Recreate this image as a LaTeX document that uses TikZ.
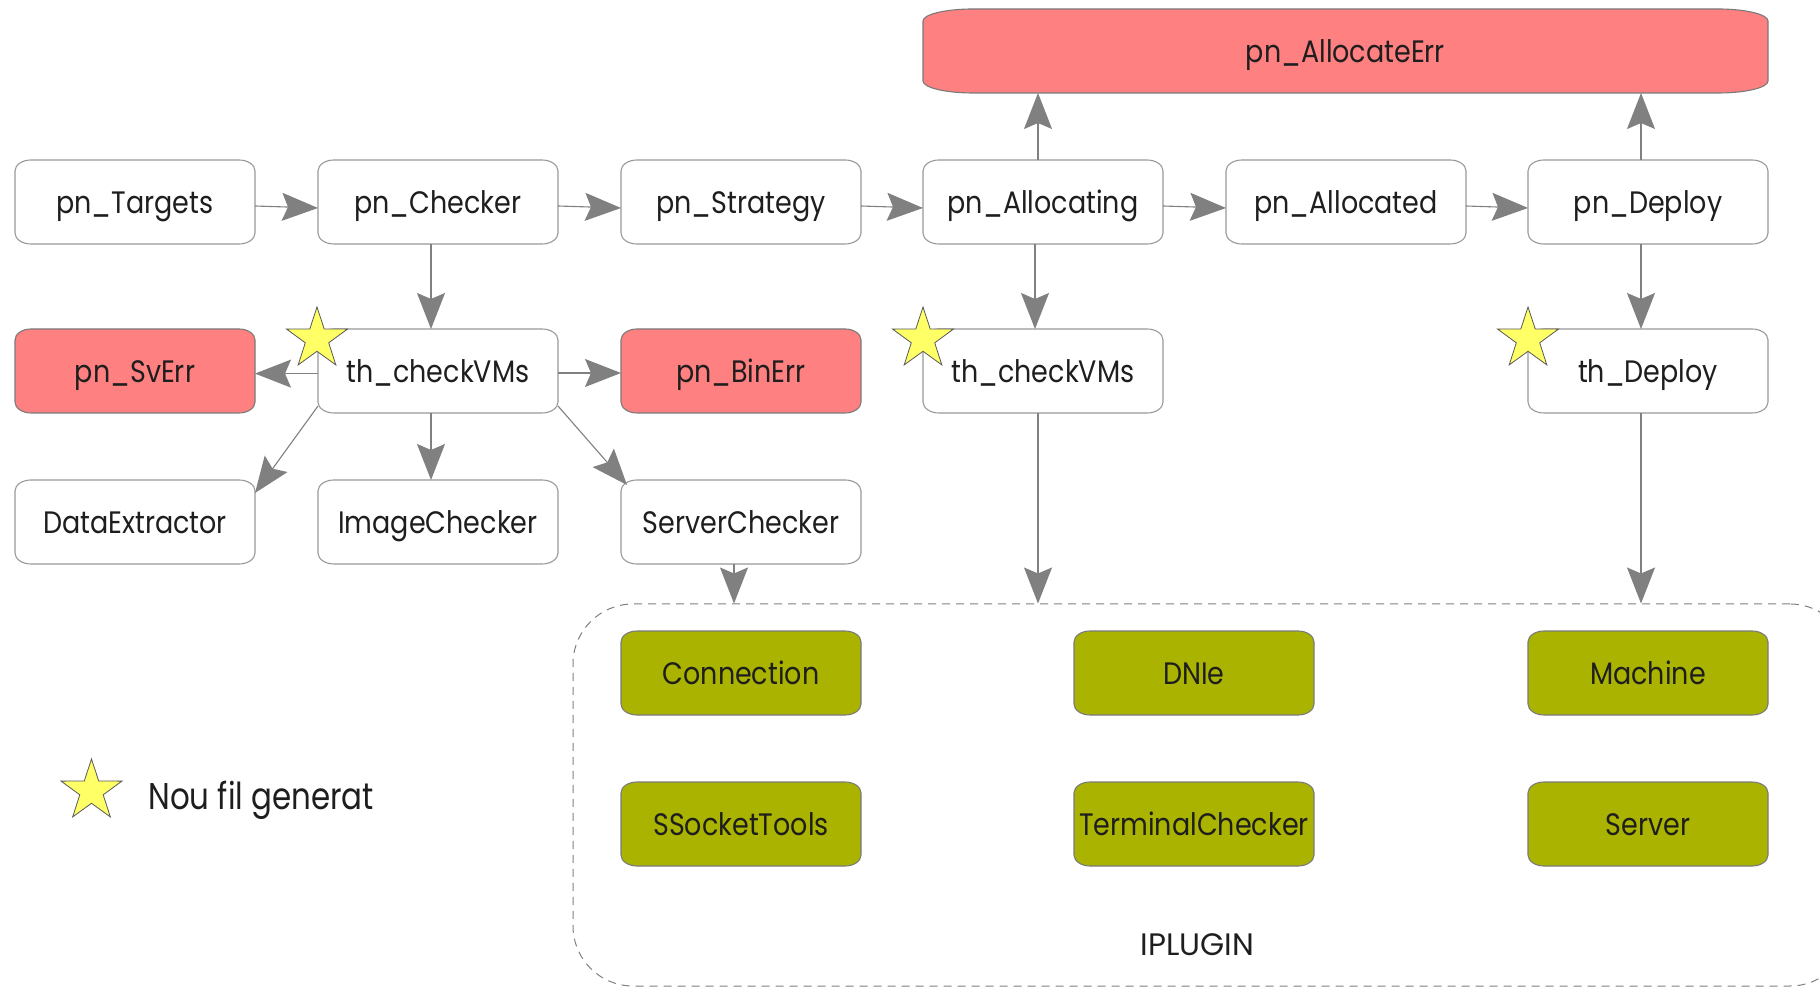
\documentclass[tikz,border=0pt]{standalone}
\usepackage{fontspec}
\setmainfont{Poppins}[FakeStretch=0.87]
\newfontfamily\legendfont{Poppins}[FakeStretch=0.83]
\newfontfamily\widefont{Poppins}
\usetikzlibrary{arrows.meta,shapes.geometric}

\definecolor{errred}{HTML}{FF8080}
\definecolor{libgreen}{HTML}{AAB400}
\definecolor{edgegray}{HTML}{999999}
\definecolor{arrowgray}{HTML}{808080}
\definecolor{staryellow}{HTML}{FFFF66}
\definecolor{inkdark}{HTML}{1E1E1E}

% Box with elliptical corners: name, cx, cy, width, height, rx, ry, style, label
\newcommand{\ebox}[9]{%
  \pgfmathsetmacro{\ebL}{#2-#4/2}%
  \pgfmathsetmacro{\ebR}{#2+#4/2}%
  \pgfmathsetmacro{\ebT}{#3-#5/2}%
  \pgfmathsetmacro{\ebB}{#3+#5/2}%
  \pgfmathsetmacro{\ebX}{#6}%
  \pgfmathsetmacro{\ebY}{#7}%
  \pgfmathsetmacro{\ebKX}{0.4477*#6}%
  \pgfmathsetmacro{\ebKY}{0.4477*#7}%
  \path[#8] ({\ebL+\ebX},\ebT) -- ({\ebR-\ebX},\ebT)
     .. controls ({\ebR-\ebKX},\ebT) and (\ebR,{\ebT+\ebKY}) .. (\ebR,{\ebT+\ebY})
     -- (\ebR,{\ebB-\ebY})
     .. controls (\ebR,{\ebB-\ebKY}) and ({\ebR-\ebKX},\ebB) .. ({\ebR-\ebX},\ebB)
     -- ({\ebL+\ebX},\ebB)
     .. controls ({\ebL+\ebKX},\ebB) and (\ebL,{\ebB-\ebKY}) .. (\ebL,{\ebB-\ebY})
     -- (\ebL,{\ebT+\ebY})
     .. controls (\ebL,{\ebT+\ebKY}) and ({\ebL+\ebKX},\ebT) .. cycle;
  \node[boxlabel, minimum width={#4*0.5pt}, minimum height={#5*0.5pt}] (#1) at (#2,#3) {#9};%
}

\tikzset{
  boxlabel/.style={rectangle, inner sep=0pt, outer sep=0pt, text=inkdark,
    text height=0.7em+4.5pt, text depth=0pt},
  plainbox/.style={draw=edgegray, fill=white, line width=0.55pt},
  errbox/.style={draw=edgegray!80!black, fill=errred, line width=0.55pt},
  libbox/.style={draw=edgegray!80!black, fill=libgreen, line width=0.55pt},
  conn/.style={draw=arrowgray, line width=0.55pt,
    -{Stealth[length=18pt, width=14pt, inset=3pt, fill=arrowgray]}},
  newthread/.style={star, star points=5, star point ratio=2.6, minimum size=32pt,
    inner sep=0pt, fill=staryellow, draw=black!65, line width=0.4pt},
  container/.style={draw=arrowgray, dashed, dash pattern=on 4pt off 3pt,
    line width=0.5pt, rounded corners=30pt, rectangle, inner sep=0pt}
}

\begin{document}
\begin{tikzpicture}[x=0.5pt, y=-0.5pt, font=\fontsize{15.5}{18}\selectfont]
  \useasboundingbox (0,0) rectangle (1820,988);
  \clip (0,0) rectangle (1820,988);
  \fill[white] (0,0) rectangle (1820,988);

  % plugin container
  \node[container, minimum width={1277*0.5pt}, minimum height={382*0.5pt}] (plugin) at (1211.5,795) {};
  \node[anchor=base, text=inkdark, inner sep=0pt, font=\widefont\fontsize{15.5}{18}\selectfont] (plugtitle) at (1197.5,955) {IPLUGIN};

  % error sink at the top
  \ebox{allocerr}{1345.5}{51}{845}{84}{50}{12}{errbox}{pn\_AllocateErr}

  % main pipeline
  \ebox{targets}{135}{202}{240}{84}{16}{11}{plainbox}{pn\_Targets}
  \ebox{checker}{438}{202}{240}{84}{16}{11}{plainbox}{pn\_Checker}
  \ebox{strategy}{741}{202}{240}{84}{16}{11}{plainbox}{pn\_Strategy}
  \ebox{allocating}{1043}{202}{240}{84}{16}{11}{plainbox}{pn\_Allocating}
  \ebox{allocated}{1346}{202}{240}{84}{16}{11}{plainbox}{pn\_Allocated}
  \ebox{deploy}{1648}{202}{240}{84}{16}{11}{plainbox}{pn\_Deploy}

  % threads and errors
  \ebox{svErr}{135}{371}{240}{84}{16}{11}{errbox}{pn\_SvErr}
  \ebox{thcheckA}{438}{371}{240}{84}{16}{11}{plainbox}{th\_checkVMs}
  \ebox{binErr}{741}{371}{240}{84}{16}{11}{errbox}{pn\_BinErr}
  \ebox{thcheckB}{1043}{371}{240}{84}{16}{11}{plainbox}{th\_checkVMs}
  \ebox{thdeploy}{1648}{371}{240}{84}{16}{11}{plainbox}{th\_Deploy}

  % checker helpers
  \ebox{dataext}{135}{522}{240}{84}{16}{11}{plainbox}{DataExtractor}
  \ebox{imgcheck}{438}{522}{240}{84}{16}{11}{plainbox}{ImageChecker}
  \ebox{srvcheck}{741}{522}{240}{84}{16}{11}{plainbox}{ServerChecker}

  % plugin classes
  \ebox{connection}{741}{673}{240}{84}{16}{11}{libbox}{Connection}
  \ebox{dnie}{1194}{673}{240}{84}{16}{11}{libbox}{DNIe}
  \ebox{machine}{1648}{673}{240}{84}{16}{11}{libbox}{Machine}
  \ebox{ssocket}{741}{824}{240}{84}{16}{11}{libbox}{SSocketTools}
  \ebox{termcheck}{1194}{824}{240}{84}{16}{11}{libbox}{TerminalChecker}
  \ebox{server}{1648}{824}{240}{84}{16}{11}{libbox}{Server}

  % pipeline arrows
  \draw[conn] ([yshift=-2pt]targets.east) -- ([yshift=-3pt]checker.west);
  \draw[conn] ([yshift=-2pt]checker.east) -- ([yshift=-3pt]strategy.west);
  \draw[conn] ([yshift=-2pt]strategy.east) -- ([yshift=-3pt]allocating.west);
  \draw[conn] ([yshift=-2pt]allocating.east) -- ([yshift=-3pt]allocated.west);
  \draw[conn] ([yshift=-2pt]allocated.east) -- ([yshift=-3pt]deploy.west);

  % arrows up to the error sink
  \draw[conn] ([xshift=-2.5pt]allocating.north) -- ([xshift=-2.5pt]allocating.north |- allocerr.south);
  \draw[conn] ([xshift=-3.5pt]deploy.north) -- ([xshift=-3.5pt]deploy.north |- allocerr.south);

  % arrows down to the threads
  \draw[conn] ([xshift=-3.5pt]checker.south) -- ([xshift=-3.5pt]thcheckA.north);
  \draw[conn] ([xshift=-4pt]allocating.south) -- ([xshift=-4pt]thcheckB.north);
  \draw[conn] ([xshift=-3.5pt]deploy.south) -- ([xshift=-3.5pt]thdeploy.north);

  % first checker thread
  \draw[conn] ([yshift=-1.3pt]thcheckA.west) -- ([yshift=-1.3pt]svErr.east);
  \draw[conn] ([yshift=-1pt]thcheckA.east) -- ([yshift=-1pt]binErr.west);
  \draw[conn] ([yshift=3.5pt]thcheckA.south west) -- ([yshift=-6.5pt]dataext.north east);
  \draw[conn] ([xshift=-3.5pt]thcheckA.south) -- ([xshift=-3.5pt]imgcheck.north);
  \draw[conn] ([yshift=3.5pt]thcheckA.south east) -- ([xshift=3pt,yshift=-2.5pt]srvcheck.north west);

  % arrows into the plugin
  \draw[conn] ([xshift=-3.5pt]srvcheck.south) -- ([xshift=-3.5pt]srvcheck.south |- plugin.north);
  \draw[conn] ([xshift=-2.5pt]thcheckB.south) -- ([xshift=-2.5pt]thcheckB.south |- plugin.north);
  \draw[conn] ([xshift=-3.5pt]thdeploy.south) -- ([xshift=-3.5pt]thdeploy.south |- plugin.north);

  % new-thread markers
  \node[newthread] (starA) at (317,339) {};
  \node[newthread] (starB) at (923,339) {};
  \node[newthread] (starC) at (1528,339) {};

  % legend
  \node[newthread] (starLegend) at (91.5,791) {};
  \node[anchor=base west, text=inkdark, inner sep=0pt, font=\legendfont\fontsize{18.6}{22}\selectfont] (legtext) at (148,809) {Nou fil generat};
\end{tikzpicture}
\end{document}
